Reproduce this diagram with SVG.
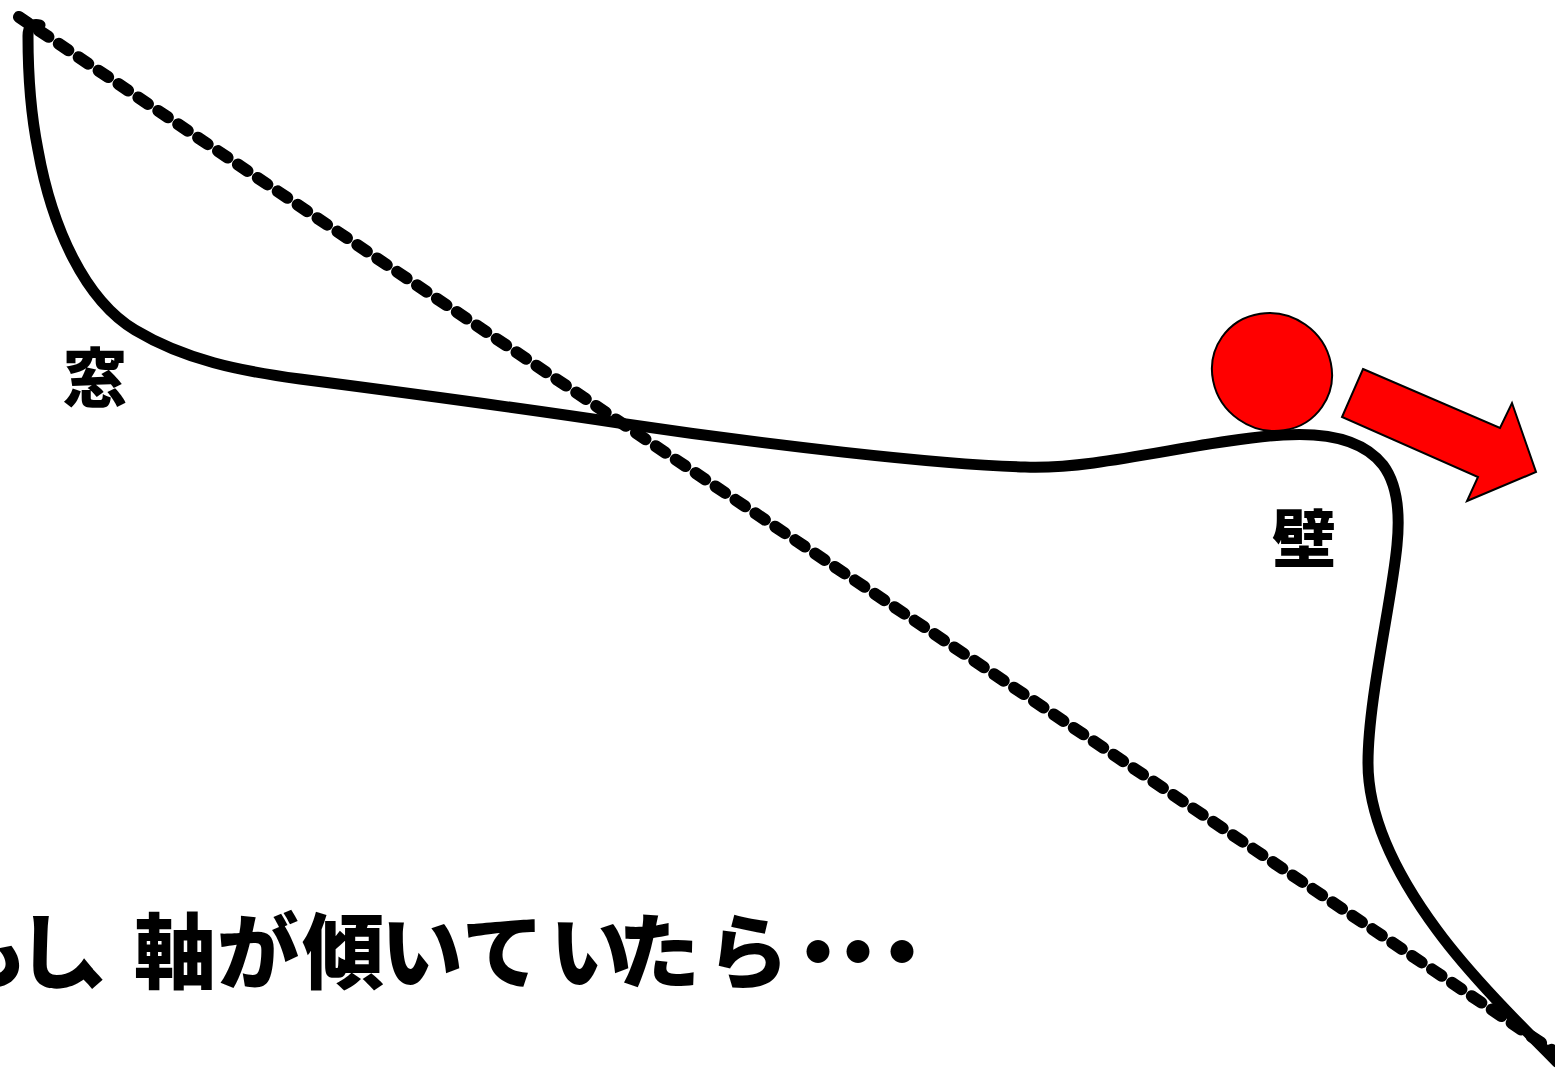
<svg xmlns="http://www.w3.org/2000/svg" width="1555" height="1069" viewBox="0 0 1555 1069">
<style>
.curve{fill:none;stroke:#000;stroke-width:11;stroke-linecap:round;stroke-linejoin:round}
.axis{fill:none;stroke:#000;stroke-width:12;stroke-linecap:round;stroke-dasharray:11.5 12.5}
.red{fill:#FF0000;stroke:#000;stroke-width:2}
.lbl{font-family:"Noto Sans CJK JP","Noto Sans CJK SC",sans-serif;font-weight:900;fill:#000}
</style>
<rect width="1555" height="1069" fill="#fff"/>
<g id="connectors">
<path id="axis" class="axis" d="M 19 17 L 1568 1061"/>
<path id="surface" class="curve" d="M 40 25 Q 28 22 28 36 C 28 80, 31 115, 38 150 C 52 228, 85 300, 135 330 C 185 360, 240 371, 300 379 C 400 392, 520 408, 619 423 C 760 444, 940 465, 1025 467 C 1100 470, 1200 440, 1283 435 C 1330 432, 1365 442, 1383 465 C 1398 485, 1400 515, 1397 545 C 1392 600, 1368 700, 1368 763 C 1368 820, 1400 880, 1437 930 C 1470 975, 1520 1025, 1557 1062"/>
</g>
<g id="ball"><ellipse class="red" cx="1272" cy="372" rx="61" ry="58" transform="rotate(35 1272 372)"/></g>
<g id="arrow"><polygon class="red" points="1363,369 1500,428 1512,403 1536,472 1467,501 1478,477 1342,417"/></g>
<g id="window-label"><text class="lbl" x="63" y="401" font-size="64">窓</text></g>
<g id="wall-label"><text class="lbl" x="1272" y="562" font-size="64">壁</text></g>
<g id="caption"><text class="lbl" font-size="82" y="982" x="-55 17 72 134 217 302 381 462 550 618 707 777 817 861">もし、軸が傾いていたら・・・</text></g>
</svg>
